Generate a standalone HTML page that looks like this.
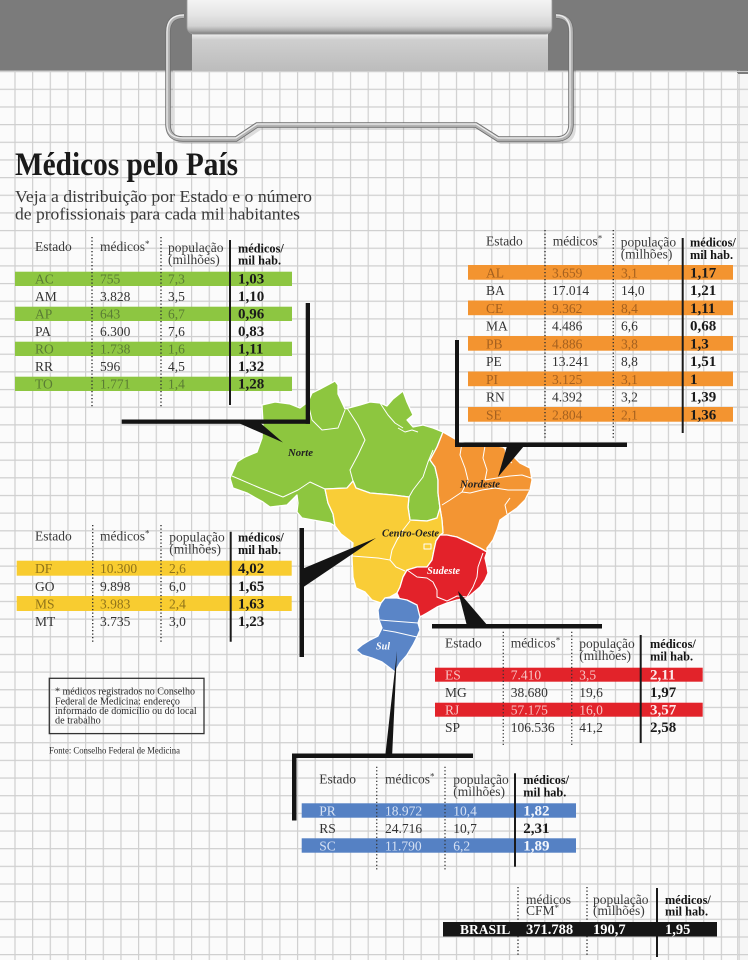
<!DOCTYPE html>
<html>
<head>
<meta charset="utf-8">
<style>
html,body{margin:0;padding:0;width:748px;height:960px;overflow:hidden;background:#fbfbfb}
svg{display:block}
text{font-family:"Liberation Serif",serif}
.h{font-size:13.5px;fill:#3a3a3a}
.hb{font-size:12.3px;font-weight:bold;fill:#151515}
.r{font-size:13.5px;fill:#333}
.rb{font-size:15px;font-weight:bold;fill:#1a1a1a}
.tg{fill:#5a7c34}
.to{fill:#a4601f}
.ty{fill:#8f731a}
.tr{fill:#f7c4c4}
.tb{fill:#d6e1f3}
.br{fill:#fde9e9}
.bb{fill:#f3f6fc}
.ml{font-size:10px;font-weight:bold;font-style:italic;fill:#222}
.fn{font-size:10px;fill:#2a2a2a}
</style>
</head>
<body>
<svg width="748" height="960" viewBox="0 0 748 960" xmlns="http://www.w3.org/2000/svg">
<defs>
  <pattern id="grid" patternUnits="userSpaceOnUse" x="14.4" y="88.7" width="17.66" height="17.66">
    <path d="M0.6 0 V17.66 M0 0.6 H17.66" stroke="#cfcfcf" stroke-width="1.2" fill="none"/>
  </pattern>
  <linearGradient id="barG" x1="0" y1="0" x2="0" y2="1">
    <stop offset="0" stop-color="#cfcfcf"/>
    <stop offset="0.15" stop-color="#f4f4f4"/>
    <stop offset="0.5" stop-color="#e6e6e6"/>
    <stop offset="0.8" stop-color="#d2d2d2"/>
    <stop offset="0.92" stop-color="#a8a8a8"/>
    <stop offset="1" stop-color="#7a7a7a"/>
  </linearGradient>
  <linearGradient id="plateG" x1="0" y1="0" x2="0" y2="1">
    <stop offset="0" stop-color="#8a8a8a"/>
    <stop offset="0.08" stop-color="#e8e8e8"/>
    <stop offset="0.2" stop-color="#cfcfcf"/>
    <stop offset="1" stop-color="#bcbcbc"/>
  </linearGradient>
</defs>

<!-- background leather -->
<rect x="0" y="0" width="748" height="75" fill="#7b7b7b"/>

<!-- paper -->
<rect x="0" y="70.7" width="737" height="890" fill="#fbfbfb"/>
<rect x="737" y="73" width="11" height="887" fill="#f6f6f6"/>
<rect x="0" y="70.7" width="748" height="890" fill="url(#grid)"/>
<rect x="737" y="72" width="11" height="2" fill="#7b7b7b"/>
<line x1="737.5" y1="73" x2="737.5" y2="960" stroke="#d6d6d6" stroke-width="1"/>

<!-- clip plate -->
<rect x="192" y="32" width="356" height="39" fill="url(#plateG)"/>

<!-- wire shadow -->
<path d="M171 70 L171 126 Q171 142 186 142 L239 142 L260 128 L479 128 L501 142 L559 142 Q574 142 574 127 L574 70" fill="none" stroke="#000" stroke-opacity="0.12" stroke-width="4"/>
<!-- wire -->
<path d="M184 16 Q168 16 168 32 L168 124 Q168 139 183 139 L236 139 L257 125 L476 125 L498 139 L556 139 Q571 139 571 124 L571 32 Q571 16 556 16" fill="none" stroke="#6f6f6f" stroke-width="5.5"/>
<path d="M184 16 Q168 16 168 32 L168 124 Q168 139 183 139 L236 139 L257 125 L476 125 L498 139 L556 139 Q571 139 571 124 L571 32 Q571 16 556 16" fill="none" stroke="#b4b4b4" stroke-width="3.8"/>
<path d="M184 15 Q167 15 167 32 L167 124 Q167 138 183 138 L236 138 L257 124 L476 124 L498 138 L556 138 Q570 138 570 124 L570 32 Q570 15 556 15" fill="none" stroke="#eeeeee" stroke-width="1.2"/>

<!-- clip bar -->
<rect x="187" y="-6" width="365" height="40" rx="7" fill="url(#barG)" stroke="#9a9a9a" stroke-width="0.8"/>

<!-- Title -->
<text x="15" y="175" font-size="33" font-weight="bold" fill="#1a1a1a" textLength="223" lengthAdjust="spacingAndGlyphs">Médicos pelo País</text>
<text x="15" y="202" font-size="17" fill="#3a3a3a" textLength="297" lengthAdjust="spacingAndGlyphs">Veja a distribuição por Estado e o número</text>
<text x="15" y="219.5" font-size="17" fill="#3a3a3a" textLength="285" lengthAdjust="spacingAndGlyphs">de profissionais para cada mil habitantes</text>

<!-- ============ MAP ============ -->
<g stroke="#ffffff" stroke-width="1.3" stroke-linejoin="round">
  <path fill="#8dc63f" d="M262,405 L275,402 L290,404 L300,408 L308,402 L312,393 L320,389 L335,381 L338,385 L338,394 L345,409 L360,405 L370,402 L380,403 L387,406 L393,399 L403,391 L407,402 L413,415 L407,420 L413,427 L423,425 L433,428 L443,432 L437,447 L430,460 L435,467 L438,480 L438,493 L440,508 L437,518 L427,521 L410,520 L408,507 L409,497 L393,495 L370,493 L356,488 L353,481 L347,488 L325,489 L328,503 L333,514 L335,526 L330,523 L313,520 L302,518 L297,512 L298,503 L297,495 L287,505 L270,507 L263,502 L247,493 L233,488 L230,478 L237,462 L245,457 L257,452 L262,438 L263,423 Z"/>
  <path fill="#f39533" d="M443,432 L450,436 L460,442 L473,445 L490,445 L503,447 L510,453 L520,463 L530,468 L532,480 L530,490 L525,500 L517,508 L507,515 L500,520 L497,530 L493,540 L487,548 L487,552 L480,548 L470,543 L457,537 L447,535 L440,535 L443,533 L442,520 L440,508 L438,493 L438,480 L435,467 L430,460 L437,447 Z"/>
  <path fill="#f9cd37" d="M325,489 L347,488 L353,481 L356,488 L370,493 L393,495 L409,497 L408,507 L410,520 L427,521 L437,518 L440,508 L442,520 L443,533 L440,535 L436,541 L434,550 L432,560 L427,567 L417,567 L407,570 L403,577 L400,587 L397,593 L390,597 L385,598 L381,603 L372,600 L365,592 L356,588 L353,577 L352,557 L353,543 L341,534 L335,526 L333,514 L328,503 Z"/>
  <path fill="#e3222a" d="M440,535 L447,535 L457,537 L470,543 L480,548 L487,552 L485,558 L487,567 L488,573 L485,580 L480,587 L473,593 L467,598 L457,600 L447,603 L437,607 L427,613 L420,617 L417,610 L410,606 L400,600 L397,593 L400,587 L403,577 L407,570 L417,567 L427,567 L432,560 L434,550 L436,541 Z"/>
  <path fill="#5a85c7" d="M385,598 L397,598 L407,600 L417,605 L420,617 L418,623 L420,630 L417,637 L413,645 L407,655 L400,663 L395,672 L390,668 L382,662 L372,658 L362,655 L356,650 L362,645 L370,640 L378,636 L382,628 L379,620 L378,610 L381,603 Z"/>
</g>
<g stroke="#ffffff" stroke-width="1" fill="none" stroke-linejoin="round">
  <path d="M347,408 L358,425 L365,440 L358,455 L350,470 L353,481"/>
  <path d="M308,403 L312,420 L322,430 L338,428 L345,410"/>
  <path d="M232,476 L260,488 L283,497 L298,490 L310,482 L325,489"/>
  <path d="M380,403 L388,415 L395,423 L403,428"/>
  <path d="M433,450 L428,462 L423,477 L413,490 L409,497"/>
  <path d="M398,428 L405,432 L412,430 L418,432"/>
  <path d="M462,443 L460,455 L465,468 L468,480 L462,492 L450,500 L442,505"/>
  <path d="M485,446 L483,458 L487,470 L485,480"/>
  <path d="M505,448 L506,458 L512,463"/>
  <path d="M485,480 L497,478 L510,476 L522,475 L531,478"/>
  <path d="M462,492 L470,493 L482,490 L495,488 L508,490 L520,490 L529,490"/>
  <path d="M510,498 L505,505 L507,514"/>
  <path d="M407,570 L417,577 L427,578 L433,582 L437,590 L437,597 L447,601"/>
  <path d="M483,553 L478,567 L477,577 L473,587 L467,597"/>
  <path d="M467,597 L457,596 L447,601"/>
  <path d="M380,620 L392,621 L405,622 L418,623"/>
  <path d="M383,630 L395,632 L408,635 L417,637"/>
  <path d="M410,521 L403,530 L397,540 L392,550 L390,560 L396,567 L405,571"/>
  <path d="M352,556 L365,557 L378,558 L390,560"/>
  <rect x="424" y="544" width="7" height="5"/>
</g>
<text class="ml" x="288" y="456" textLength="25" lengthAdjust="spacingAndGlyphs">Norte</text>
<text class="ml" x="460" y="487.5" textLength="40" lengthAdjust="spacingAndGlyphs">Nordeste</text>
<text class="ml" x="382" y="536.5" textLength="57" lengthAdjust="spacingAndGlyphs">Centro-Oeste</text>
<text class="ml" x="427" y="574" textLength="33" lengthAdjust="spacingAndGlyphs" style="fill:#ffffff">Sudeste</text>
<text class="ml" x="376" y="649.5" textLength="14" lengthAdjust="spacingAndGlyphs" style="fill:#ffffff">Sul</text>

<!-- ============ POINTERS ============ -->
<g fill="#141414">
  <!-- Norte -->
  <rect x="121.7" y="419.5" width="188.3" height="4.3"/>
  <rect x="305.7" y="303" width="4.3" height="120.8"/>
  <polygon points="234,421 258,421 283,442.5"/>
  <!-- Nordeste -->
  <rect x="455" y="340" width="4" height="107"/>
  <rect x="455" y="442.5" width="172" height="4.5"/>
  <polygon points="507,446 524,446 498,477"/>
  <!-- Centro-Oeste -->
  <rect x="299.5" y="528" width="4.5" height="129"/>
  <polygon points="302,569 302,588 376,538"/>
  <!-- Sudeste -->
  <rect x="432" y="624" width="170" height="4.5"/>
  <polygon points="467,626 488,626 458,591"/>
  <!-- Sul -->
  <polygon points="385,758 392,758 397,651"/>
  <rect x="292" y="753.5" width="181" height="4.5"/>
  <rect x="292" y="753.5" width="4.5" height="67"/>
</g>

<!-- ============ NORTE TABLE ============ -->
<g fill="#8dc641">
  <rect x="15" y="271.7" width="277" height="14.3"/>
  <rect x="15" y="306.7" width="277" height="14.3"/>
  <rect x="15" y="341.7" width="277" height="14.3"/>
  <rect x="15" y="376.7" width="277" height="14.3"/>
</g>
<line x1="92" y1="237" x2="92" y2="407" stroke="#333" stroke-width="1.4" stroke-dasharray="1.2 2.3"/>
<line x1="161" y1="237" x2="161" y2="407" stroke="#333" stroke-width="1.4" stroke-dasharray="1.2 2.3"/>
<line x1="230" y1="240" x2="230" y2="405" stroke="#1a1a1a" stroke-width="2"/>
<text class="h" x="35" y="251">Estado</text>
<text class="h" x="100" y="251">médicos<tspan font-size="9" dy="-4">*</tspan></text>
<text class="h" x="168" y="252">população</text>
<text class="h" x="168" y="264">(milhões)</text>
<text class="hb" x="238" y="252.5">médicos/</text>
<text class="hb" x="238" y="264.5">mil hab.</text>

<text class="r tg" x="35" y="283.7">AC</text><text class="r tg" x="100" y="283.7">755</text><text class="r tg" x="168" y="283.7">7,3</text><text class="rb" x="238" y="283.7">1,03</text>
<text class="r" x="35" y="301.2">AM</text><text class="r" x="100" y="301.2">3.828</text><text class="r" x="168" y="301.2">3,5</text><text class="rb" x="238" y="301.2">1,10</text>
<text class="r tg" x="35" y="318.7">AP</text><text class="r tg" x="100" y="318.7">643</text><text class="r tg" x="168" y="318.7">6,7</text><text class="rb" x="238" y="318.7">0,96</text>
<text class="r" x="35" y="336.2">PA</text><text class="r" x="100" y="336.2">6.300</text><text class="r" x="168" y="336.2">7,6</text><text class="rb" x="238" y="336.2">0,83</text>
<text class="r tg" x="35" y="353.7">RO</text><text class="r tg" x="100" y="353.7">1.738</text><text class="r tg" x="168" y="353.7">1,6</text><text class="rb" x="238" y="353.7">1,11</text>
<text class="r" x="35" y="371.2">RR</text><text class="r" x="100" y="371.2">596</text><text class="r" x="168" y="371.2">4,5</text><text class="rb" x="238" y="371.2">1,32</text>
<text class="r tg" x="35" y="388.7">TO</text><text class="r tg" x="100" y="388.7">1.771</text><text class="r tg" x="168" y="388.7">1,4</text><text class="rb" x="238" y="388.7">1,28</text>

<!-- ============ NORDESTE TABLE ============ -->
<g fill="#f39430">
  <rect x="468" y="265" width="265" height="14.7"/>
  <rect x="468" y="300.5" width="265" height="14.7"/>
  <rect x="468" y="336" width="265" height="14.7"/>
  <rect x="468" y="371.5" width="265" height="14.7"/>
  <rect x="468" y="407" width="265" height="14.7"/>
</g>
<line x1="545" y1="230" x2="545" y2="438" stroke="#333" stroke-width="1.4" stroke-dasharray="1.2 2.3"/>
<line x1="613.3" y1="230" x2="613.3" y2="438" stroke="#333" stroke-width="1.4" stroke-dasharray="1.2 2.3"/>
<line x1="682.7" y1="238" x2="682.7" y2="433" stroke="#1a1a1a" stroke-width="2"/>
<text class="h" x="486" y="245.7">Estado</text>
<text class="h" x="552.7" y="245.7">médicos<tspan font-size="9" dy="-4">*</tspan></text>
<text class="h" x="620.7" y="246.5">população</text>
<text class="h" x="620.7" y="258.5">(milhões)</text>
<text class="hb" x="690" y="246.5">médicos/</text>
<text class="hb" x="690" y="259">mil hab.</text>

<text class="r to" x="486" y="277.3">AL</text><text class="r to" x="552" y="277.3">3.659</text><text class="r to" x="621" y="277.3">3,1</text><text class="rb" x="690" y="277.3">1,17</text>
<text class="r" x="486" y="295">BA</text><text class="r" x="552" y="295">17.014</text><text class="r" x="621" y="295">14,0</text><text class="rb" x="690" y="295">1,21</text>
<text class="r to" x="486" y="312.8">CE</text><text class="r to" x="552" y="312.8">9.362</text><text class="r to" x="621" y="312.8">8,4</text><text class="rb" x="690" y="312.8">1,11</text>
<text class="r" x="486" y="330.5">MA</text><text class="r" x="552" y="330.5">4.486</text><text class="r" x="621" y="330.5">6,6</text><text class="rb" x="690" y="330.5">0,68</text>
<text class="r to" x="486" y="348.3">PB</text><text class="r to" x="552" y="348.3">4.886</text><text class="r to" x="621" y="348.3">3,8</text><text class="rb" x="690" y="348.3">1,3</text>
<text class="r" x="486" y="366">PE</text><text class="r" x="552" y="366">13.241</text><text class="r" x="621" y="366">8,8</text><text class="rb" x="690" y="366">1,51</text>
<text class="r to" x="486" y="383.8">PI</text><text class="r to" x="552" y="383.8">3.125</text><text class="r to" x="621" y="383.8">3,1</text><text class="rb" x="690" y="383.8">1</text>
<text class="r" x="486" y="401.5">RN</text><text class="r" x="552" y="401.5">4.392</text><text class="r" x="621" y="401.5">3,2</text><text class="rb" x="690" y="401.5">1,39</text>
<text class="r to" x="486" y="419.3">SE</text><text class="r to" x="552" y="419.3">2.804</text><text class="r to" x="621" y="419.3">2,1</text><text class="rb" x="690" y="419.3">1,36</text>

<!-- ============ CENTRO-OESTE TABLE ============ -->
<g fill="#f8cc30">
  <rect x="16.7" y="560.7" width="275" height="15"/>
  <rect x="16.7" y="596" width="275" height="15"/>
</g>
<line x1="92.7" y1="525" x2="92.7" y2="643" stroke="#333" stroke-width="1.4" stroke-dasharray="1.2 2.3"/>
<line x1="161" y1="525" x2="161" y2="643" stroke="#333" stroke-width="1.4" stroke-dasharray="1.2 2.3"/>
<line x1="230.7" y1="531.7" x2="230.7" y2="641.7" stroke="#1a1a1a" stroke-width="2"/>
<text class="h" x="35" y="540.7">Estado</text>
<text class="h" x="100" y="540.7">médicos<tspan font-size="9" dy="-4">*</tspan></text>
<text class="h" x="169.3" y="541.5">população</text>
<text class="h" x="169.3" y="553.5">(milhões)</text>
<text class="hb" x="238" y="541.5">médicos/</text>
<text class="hb" x="238" y="554">mil hab.</text>

<text class="r ty" x="35" y="573.2">DF</text><text class="r ty" x="100" y="573.2">10.300</text><text class="r ty" x="169" y="573.2">2,6</text><text class="rb" x="238" y="573.2">4,02</text>
<text class="r" x="35" y="590.85">GO</text><text class="r" x="100" y="590.85">9.898</text><text class="r" x="169" y="590.85">6,0</text><text class="rb" x="238" y="590.85">1,65</text>
<text class="r ty" x="35" y="608.5">MS</text><text class="r ty" x="100" y="608.5">3.983</text><text class="r ty" x="169" y="608.5">2,4</text><text class="rb" x="238" y="608.5">1,63</text>
<text class="r" x="35" y="626.15">MT</text><text class="r" x="100" y="626.15">3.735</text><text class="r" x="169" y="626.15">3,0</text><text class="rb" x="238" y="626.15">1,23</text>

<!-- footnote -->
<rect x="49.3" y="678.3" width="154.7" height="55.3" fill="none" stroke="#333" stroke-width="1.3"/>
<text class="fn" x="55" y="694.3" textLength="140" lengthAdjust="spacingAndGlyphs">* médicos registrados no Conselho</text>
<text class="fn" x="55" y="704.3" textLength="125" lengthAdjust="spacingAndGlyphs">Federal de Medicina: endereço</text>
<text class="fn" x="55" y="714" textLength="141.7" lengthAdjust="spacingAndGlyphs">informado de domicílio ou do local</text>
<text class="fn" x="55" y="723.5" textLength="45.7" lengthAdjust="spacingAndGlyphs">de trabalho</text>
<text x="49" y="753.3" font-size="9.5" fill="#2a2a2a" textLength="131" lengthAdjust="spacingAndGlyphs">Fonte: Conselho Federal de Medicina</text>

<!-- ============ SUDESTE TABLE ============ -->
<g fill="#e2232a">
  <rect x="435" y="667.7" width="267.7" height="14"/>
  <rect x="435" y="702.7" width="267.7" height="14"/>
</g>
<line x1="503.3" y1="631.7" x2="503.3" y2="745" stroke="#333" stroke-width="1.4" stroke-dasharray="1.2 2.3"/>
<line x1="571.7" y1="631.7" x2="571.7" y2="745" stroke="#333" stroke-width="1.4" stroke-dasharray="1.2 2.3"/>
<line x1="640.7" y1="635" x2="640.7" y2="743" stroke="#1a1a1a" stroke-width="2"/>
<text class="h" x="445" y="647.3">Estado</text>
<text class="h" x="510.7" y="647.3">médicos<tspan font-size="9" dy="-4">*</tspan></text>
<text class="h" x="579.3" y="648">população</text>
<text class="h" x="579.3" y="660">(milhões)</text>
<text class="hb" x="650" y="648">médicos/</text>
<text class="hb" x="650" y="660.7">mil hab.</text>

<text class="r tr" x="445" y="679.7">ES</text><text class="r tr" x="510.7" y="679.7">7.410</text><text class="r tr" x="579.3" y="679.7">3,5</text><text class="rb br" x="650" y="679.7">2,11</text>
<text class="r" x="445" y="697.2">MG</text><text class="r" x="510.7" y="697.2">38.680</text><text class="r" x="579.3" y="697.2">19,6</text><text class="rb" x="650" y="697.2">1,97</text>
<text class="r tr" x="445" y="714.7">RJ</text><text class="r tr" x="510.7" y="714.7">57.175</text><text class="r tr" x="579.3" y="714.7">16,0</text><text class="rb br" x="650" y="714.7">3,57</text>
<text class="r" x="445" y="732.2">SP</text><text class="r" x="510.7" y="732.2">106.536</text><text class="r" x="579.3" y="732.2">41,2</text><text class="rb" x="650" y="732.2">2,58</text>

<!-- ============ SUL TABLE ============ -->
<g fill="#5581c4">
  <rect x="301.7" y="803.3" width="274.3" height="14.4"/>
  <rect x="301.7" y="838.3" width="274.3" height="14.4"/>
</g>
<line x1="376.7" y1="766.7" x2="376.7" y2="870" stroke="#333" stroke-width="1.4" stroke-dasharray="1.2 2.3"/>
<line x1="445" y1="766.7" x2="445" y2="870" stroke="#333" stroke-width="1.4" stroke-dasharray="1.2 2.3"/>
<line x1="515" y1="773.3" x2="515" y2="866.7" stroke="#1a1a1a" stroke-width="2"/>
<text class="h" x="319.3" y="783.3">Estado</text>
<text class="h" x="385" y="783.3">médicos<tspan font-size="9" dy="-4">*</tspan></text>
<text class="h" x="453.3" y="784">população</text>
<text class="h" x="453.3" y="796">(milhões)</text>
<text class="hb" x="523.3" y="784">médicos/</text>
<text class="hb" x="523.3" y="796.5">mil hab.</text>

<text class="r tb" x="319.3" y="815.3">PR</text><text class="r tb" x="385" y="815.3">18.972</text><text class="r tb" x="453.3" y="815.3">10,4</text><text class="rb bb" x="523.3" y="815.3">1,82</text>
<text class="r" x="319.3" y="832.8">RS</text><text class="r" x="385" y="832.8">24.716</text><text class="r" x="453.3" y="832.8">10,7</text><text class="rb" x="523.3" y="832.8">2,31</text>
<text class="r tb" x="319.3" y="850.3">SC</text><text class="r tb" x="385" y="850.3">11.790</text><text class="r tb" x="453.3" y="850.3">6,2</text><text class="rb bb" x="523.3" y="850.3">1,89</text>

<!-- ============ BRASIL ============ -->
<line x1="518" y1="887" x2="518" y2="955" stroke="#333" stroke-width="1.4" stroke-dasharray="1.2 2.3"/>
<line x1="587" y1="887" x2="587" y2="955" stroke="#333" stroke-width="1.4" stroke-dasharray="1.2 2.3"/>
<line x1="657" y1="888" x2="657" y2="957" stroke="#1a1a1a" stroke-width="2"/>
<text class="h" x="526" y="904">médicos</text>
<text class="h" x="526" y="915">CFM<tspan font-size="9" dy="-4">*</tspan></text>
<text class="h" x="593" y="904">população</text>
<text class="h" x="593" y="915">(milhões)</text>
<text class="hb" x="665" y="904">médicos/</text>
<text class="hb" x="665" y="915.5">mil hab.</text>
<rect x="443" y="922" width="274" height="14.5" fill="#161616"/>
<text x="460" y="934" font-size="13.5" font-weight="bold" fill="#ffffff">BRASIL</text>
<text x="526" y="934" font-size="14.5" font-weight="bold" fill="#ffffff">371.788</text>
<text x="593" y="934" font-size="14.5" font-weight="bold" fill="#ffffff">190,7</text>
<text x="665" y="934" font-size="14.5" font-weight="bold" fill="#ffffff">1,95</text>
</svg>
</body>
</html>
